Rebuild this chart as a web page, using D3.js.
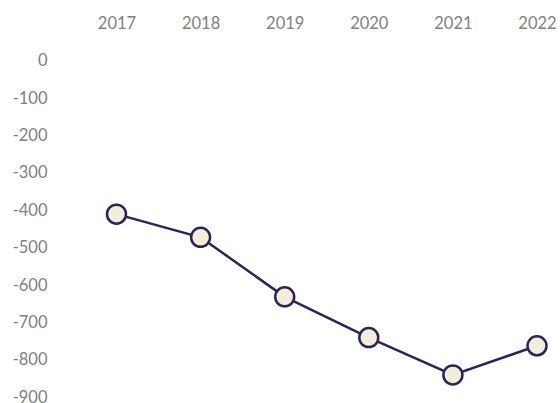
<!DOCTYPE html>
<html><head><meta charset="utf-8">
<script src="https://cdn.jsdelivr.net/npm/d3@7"></script>
<style>body{margin:0;background:#fff}svg{display:block}</style>
</head><body>
<script>
const years = ["2017","2018","2019","2020","2021","2022"];
const values = [-411, -473, -632, -741, -841, -763];
const yTicks = [0,-100,-200,-300,-400,-500,-600,-700,-800,-900];

const W = 560, H = 403;
const svg = d3.select("body").append("svg").attr("width", W).attr("height", H);
const x = d3.scalePoint().domain(years).range([116.5, 537]);
const y = d3.scaleLinear().domain([0, -900]).range([60.5, 397]);

const font = "Lato, 'Open Sans', sans-serif";
const gray = "#808080";

const xAxis = d3.axisTop(x).tickSize(0).tickPadding(0);
svg.append("g").attr("transform", "translate(0,29)").call(xAxis)
  .call(g => g.select(".domain").remove())
  .call(g => g.selectAll("text").attr("fill", gray).attr("font-family", font).attr("font-size", 16.5).attr("dy", "0"));

const yAxis = d3.axisLeft(y).tickValues(yTicks).tickSize(0).tickPadding(0).tickFormat(d => String(d));
svg.append("g").attr("transform", "translate(47.5,0)").call(yAxis)
  .call(g => g.select(".domain").remove())
  .call(g => g.selectAll("text").attr("fill", gray).attr("font-family", font).attr("font-size", 16.5));

const pts = years.map((yr, i) => [x(yr), y(values[i])]);
svg.append("path").attr("d", d3.line()(pts)).attr("fill", "none")
  .attr("stroke", "#2b2458").attr("stroke-width", 2.5);
svg.selectAll("circle").data(pts).join("circle")
  .attr("cx", d => d[0]).attr("cy", d => d[1]).attr("r", 9.5)
  .attr("fill", "#f3eedb").attr("stroke", "#2b2458").attr("stroke-width", 2.5);
</script>
</body></html>
